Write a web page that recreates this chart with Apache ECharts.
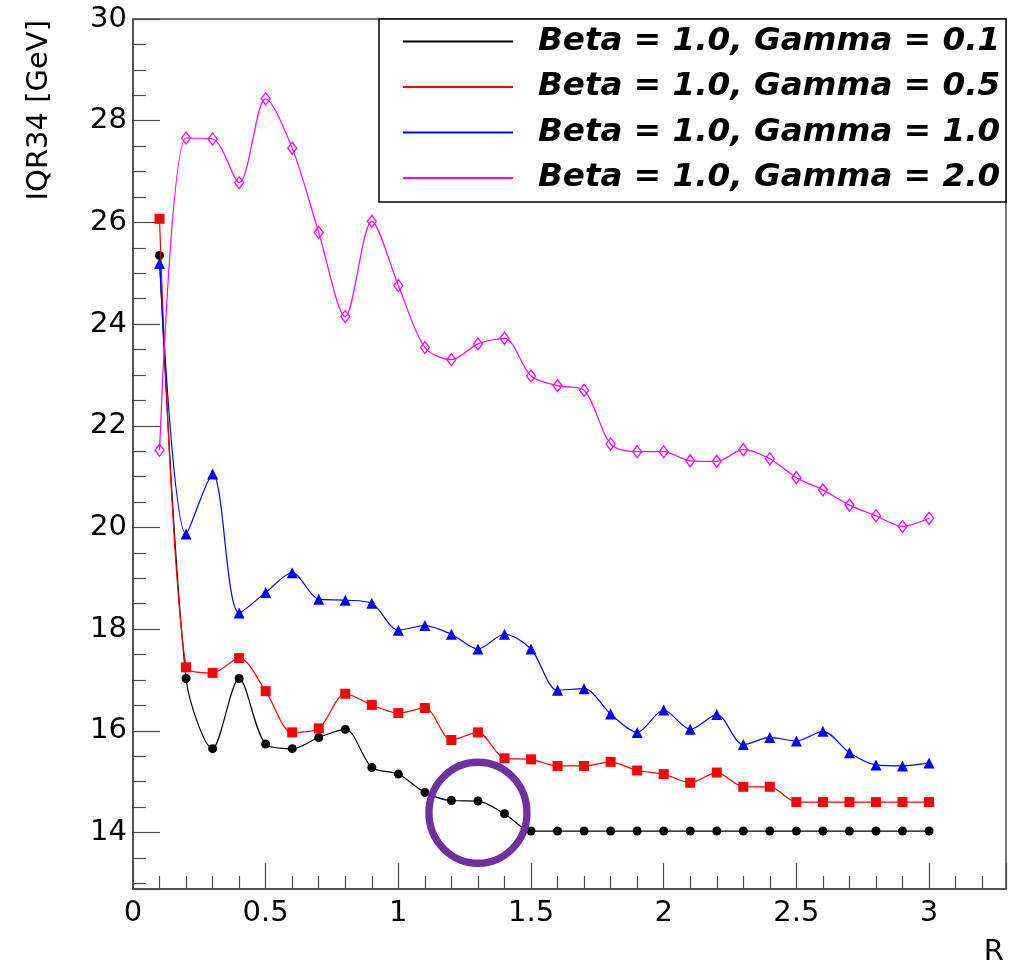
<!DOCTYPE html>
<html>
<head>
<meta charset="utf-8">
<script src="https://cdn.jsdelivr.net/npm/echarts@6/dist/echarts.min.js"></script>
<style>
  html, body { margin: 0; padding: 0; background: #ffffff; }
  #chart { width: 1022px; height: 967px; }
</style>
</head>
<body>
<div id="chart"></div>
<script>
// Cone radius R scanned from 0.1 to 3.0
const rValues = [0.1, 0.2, 0.3, 0.4, 0.5, 0.6, 0.7, 0.8, 0.9, 1.0,
                 1.1, 1.2, 1.3, 1.4, 1.5, 1.6, 1.7, 1.8, 1.9, 2.0,
                 2.1, 2.2, 2.3, 2.4, 2.5, 2.6, 2.7, 2.8, 2.9, 3.0];

// IQR34 [GeV] for Beta = 1.0 and each Gamma
const iqrGamma01 = [25.35, 17.03, 15.65, 17.03, 15.74, 15.65, 15.87, 16.03, 15.28, 15.15,
                    14.79, 14.63, 14.62, 14.37, 14.03, 14.03, 14.03, 14.03, 14.03, 14.03,
                    14.03, 14.03, 14.03, 14.03, 14.03, 14.03, 14.03, 14.03, 14.03, 14.03];
const iqrGamma05 = [26.07, 17.25, 17.14, 17.43, 16.78, 15.97, 16.05, 16.73, 16.51, 16.35,
                    16.45, 15.82, 15.97, 15.46, 15.44, 15.31, 15.31, 15.39, 15.22, 15.15,
                    14.98, 15.18, 14.90, 14.90, 14.60, 14.60, 14.60, 14.60, 14.60, 14.60];
const iqrGamma10 = [25.19, 19.87, 21.05, 18.32, 18.72, 19.11, 18.59, 18.57, 18.51, 17.98,
                    18.07, 17.90, 17.61, 17.90, 17.61, 16.80, 16.83, 16.33, 15.97, 16.41,
                    16.03, 16.32, 15.73, 15.87, 15.80, 15.99, 15.57, 15.33, 15.31, 15.37];
const iqrGamma20 = [21.52, 27.66, 27.64, 26.78, 28.43, 27.46, 25.80, 24.15, 26.02, 24.76,
                    23.54, 23.30, 23.61, 23.72, 22.98, 22.79, 22.70, 21.64, 21.49, 21.49,
                    21.31, 21.30, 21.53, 21.35, 20.98, 20.74, 20.44, 20.23, 20.02, 20.18];

const seriesNames = ['Beta = 1.0, Gamma = 0.1', 'Beta = 1.0, Gamma = 0.5',
                     'Beta = 1.0, Gamma = 1.0', 'Beta = 1.0, Gamma = 2.0'];

// Highlighted region (data coordinates of the ring centre)
const highlightR = 1.3;
const highlightIQR = 14.39;

const FONT = 'DejaVu Sans';
const AXIS_COLOR = '#4a4a4a';

function pairs(ys) { return rValues.map((x, i) => [x, ys[i]]); }

function onMultiple(v, step) {
  const q = v / step;
  return Math.abs(q - Math.round(q)) < 1e-6;
}

const styles = [
  { color: '#000000', symbol: 'circle', size: 9, hollow: false },
  { color: '#ff0000', symbol: 'rect', size: 10, hollow: false },
  { color: '#0000ff', symbol: 'triangle', size: 11, hollow: false },
  { color: '#ff00ff', symbol: 'diamond', size: [9, 12], hollow: true }
];
const dataSets = [iqrGamma01, iqrGamma05, iqrGamma10, iqrGamma20];

const series = dataSets.map((ys, i) => {
  const s = styles[i];
  return {
    name: seriesNames[i],
    type: 'line',
    data: pairs(ys),
    smooth: 0.3,
    symbol: s.symbol,
    symbolSize: s.size,
    showSymbol: true,
    lineStyle: { color: s.color, width: 1.2 },
    itemStyle: s.hollow
      ? { color: 'rgba(255,255,255,0)', borderColor: s.color, borderWidth: 1.3 }
      : { color: s.color, borderWidth: 0 },
    emphasis: { disabled: true },
    z: 2 + i
  };
});

const chart = echarts.init(document.getElementById('chart'), null, { renderer: 'canvas' });

const option = {
  backgroundColor: '#ffffff',
  animation: false,
  grid: {
    left: 133, right: 16, top: 19, bottom: 78,
    show: true, borderColor: AXIS_COLOR, borderWidth: 1.5, backgroundColor: 'transparent'
  },
  xAxis: {
    type: 'value',
    min: 0, max: 3.29,
    splitNumber: 7, minInterval: 0.5, maxInterval: 0.5,
    axisLine: { show: true, lineStyle: { color: AXIS_COLOR, width: 1.5 } },
    axisTick: { show: true, inside: true, length: 26, lineStyle: { color: AXIS_COLOR, width: 1.2 } },
    minorTick: { show: true, splitNumber: 5, length: 13, lineStyle: { color: AXIS_COLOR, width: 1.2 } },
    splitLine: { show: false },
    axisLabel: {
      show: true, margin: 10, color: '#000', fontFamily: FONT, fontSize: 29,
      formatter: v => onMultiple(v, 0.5) ? String(+v.toFixed(2)) : ''
    }
  },
  yAxis: {
    type: 'value',
    min: 12.89, max: 30,
    splitNumber: 8, minInterval: 2, maxInterval: 2,
    axisLine: { show: true, lineStyle: { color: AXIS_COLOR, width: 1.5 } },
    axisTick: { show: true, inside: true, length: 27, lineStyle: { color: AXIS_COLOR, width: 1.2 } },
    minorTick: { show: true, splitNumber: 4, length: 13, lineStyle: { color: AXIS_COLOR, width: 1.2 } },
    splitLine: { show: false },
    axisLabel: {
      show: true, margin: 6, color: '#000', fontFamily: FONT, fontSize: 29,
      formatter: v => onMultiple(v, 2) ? String(Math.round(v)) : ''
    }
  },
  legend: {
    show: true,
    orient: 'vertical',
    left: 403, top: 21.5,
    itemWidth: 110, itemHeight: 2, itemGap: 5.5,
    icon: 'rect',
    selectedMode: false,
    padding: 0,
    textStyle: {
      fontFamily: FONT, fontSize: 32.6, fontWeight: 'bold', fontStyle: 'italic',
      color: '#000', lineHeight: 40, padding: [0, 0, 0, 20]
    },
    data: seriesNames.map((n, i) => ({
      name: n,
      itemStyle: { color: styles[i].color, borderWidth: 0 }
    }))
  },
  graphic: [
    {
      type: 'rect', id: 'legendFrame', z: 0,
      shape: { x: 379, y: 19, width: 627, height: 183 },
      style: { fill: '#ffffff', stroke: '#000000', lineWidth: 1.5 }
    },
    {
      type: 'text', id: 'yTitle', x: 39, y: 20, rotation: Math.PI / 2,
      style: { text: 'IQR34 [GeV]', fontFamily: FONT, fontSize: 29, fill: '#000',
               align: 'right', verticalAlign: 'middle' }
    },
    {
      type: 'text', id: 'xTitle', x: 1004, y: 952,
      style: { text: 'R', fontFamily: FONT, fontSize: 29, fill: '#000',
               align: 'right', verticalAlign: 'middle' }
    }
  ],
  series: series
};

chart.setOption(option);

// Ring around the region where the Gamma = 0.1 curve flattens out
const centre = chart.convertToPixel({ gridIndex: 0 }, [highlightR, highlightIQR]);
chart.setOption({
  graphic: [{
    type: 'ellipse', id: 'ring', z: 100,
    shape: { cx: centre[0], cy: centre[1], rx: 49, ry: 50.5 },
    style: { fill: 'none', stroke: '#7030a0', lineWidth: 7.3 }
  }]
});
</script>
</body>
</html>
